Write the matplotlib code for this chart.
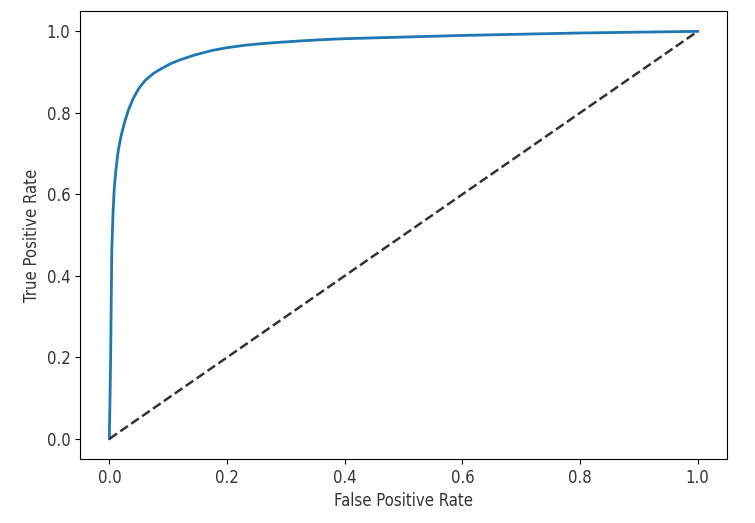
import matplotlib.pyplot as plt

fpr = [0.0, 0.0, 0.001, 0.002, 0.003, 0.004, 0.006, 0.008, 0.011, 0.015, 0.020,
       0.026, 0.032, 0.040, 0.050, 0.061, 0.075, 0.089, 0.103, 0.118, 0.145,
       0.174, 0.200, 0.231, 0.260, 0.288, 0.330, 0.368, 0.400, 0.500, 0.600,
       0.700, 0.800, 0.900, 1.0]
tpr = [0.0, 0.02, 0.10, 0.194, 0.33, 0.463, 0.55, 0.61, 0.66, 0.708, 0.745,
       0.778, 0.806, 0.834, 0.860, 0.880, 0.897, 0.909, 0.920, 0.929, 0.942,
       0.953, 0.960, 0.966, 0.970, 0.973, 0.977, 0.980, 0.982, 0.986, 0.990,
       0.993, 0.996, 0.998, 1.0]

plt.rcParams['font.family'] = ['DejaVu Sans']
plt.rcParams['font.stretch'] = 'condensed'
plt.rcParams['text.color'] = '#333333'
plt.rcParams['axes.labelcolor'] = '#333333'
plt.rcParams['xtick.labelcolor'] = '#333333'
plt.rcParams['ytick.labelcolor'] = '#333333'

fig = plt.figure(figsize=(7.55, 5.23), dpi=100)
ax = fig.add_axes([0.106, 0.122, 0.857, 0.857])

ax.plot(fpr, tpr, linewidth=2, color='#1f77b4')
ax.plot([0, 1], [0, 1], '--', color='#333333', linewidth=1.8)
ax.set_xlabel('False Positive Rate', fontsize=12)
ax.set_ylabel('True Positive Rate', fontsize=12)
ax.tick_params(labelsize=12)

fig.savefig('out.png')
